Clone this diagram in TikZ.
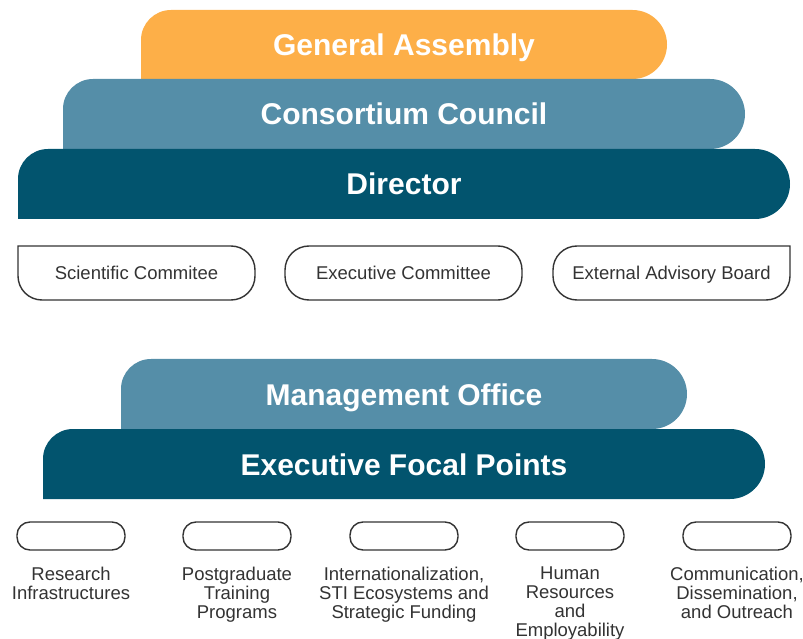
\documentclass[tikz,border=0pt]{standalone}
\usepackage{fontspec}
\setmainfont{Liberation Sans}
\usetikzlibrary{positioning}

\definecolor{gaorange}{HTML}{FDAF48}
\definecolor{midblue}{HTML}{558EA8}
\definecolor{darkteal}{HTML}{02546E}
\definecolor{inkgray}{HTML}{333333}

\begin{document}
\begin{tikzpicture}[x=1pt,y=1pt,
    title/.style={text=white,font=\fontsize{30}{36}\selectfont\bfseries,
        inner sep=0pt,anchor=base},
    box/.style={draw=inkgray,line width=1.4pt},
    boxtext/.style={text=inkgray,font=\fontsize{18.5}{22}\selectfont,
        inner sep=0pt,anchor=base},
    pill/.style={draw=inkgray,line width=1.4pt,rounded corners=13pt,
        minimum width=108pt,minimum height=28pt,inner sep=0pt},
    lbl/.style={text=inkgray,font=\fontsize{18.5}{19}\selectfont,
        align=center,inner sep=0pt}]

    \useasboundingbox (0,0) rectangle (803,638);

    % governing bodies
    \fill[gaorange] (141,559) -- (141,598) arc[start angle=180,end
        angle=90,radius=30] -- (632.5,628) arc[start angle=90,end
        angle=-90,radius=34.5] -- cycle;
    \fill[midblue] (63,489) -- (63,529) arc[start angle=180,end
        angle=90,radius=30] -- (710,559) arc[start angle=90,end
        angle=-90,radius=35] -- cycle;
    \fill[darkteal] (18,419) -- (18,459) arc[start angle=180,end
        angle=90,radius=30] -- (755,489) arc[start angle=90,end
        angle=-90,radius=35] -- cycle;

    \node[title] (ga) at (404,582.5) {General Assembly};
    \node[title] (cc) at (404,513) {Consortium Council};
    \node[title] (dir) at (404,443) {Director};

    % committees
    \draw[box] (18,392) -- (231,392) arc[start angle=90,end
        angle=0,radius=24] -- (255,362) arc[start angle=0,end
        angle=-90,radius=24] -- (42,338) arc[start angle=270,end
        angle=180,radius=24] -- cycle;
    \draw[box,rounded corners=24pt] (285,338) rectangle (522,392);
    \draw[box] (790,392) -- (790,362) arc[start angle=0,end
        angle=-90,radius=24] -- (577,338) arc[start angle=270,end
        angle=180,radius=24] -- (553,368) arc[start angle=180,end
        angle=90,radius=24] -- cycle;

    \node[boxtext] (sci) at (136.5,358.4) {Scientific Commitee};
    \node[boxtext] (exe) at (403.5,358.4) {Executive Committee};
    \node[boxtext] (eab) at (671.5,358.4) {External Advisory Board};

    % management
    \fill[midblue] (121,209) -- (121,249) arc[start angle=180,end
        angle=90,radius=30] -- (652,279) arc[start angle=90,end
        angle=-90,radius=35] -- cycle;
    \fill[darkteal] (43,139) -- (43,179) arc[start angle=180,end
        angle=90,radius=30] -- (730,209) arc[start angle=90,end
        angle=-90,radius=35] -- cycle;

    \node[title] (mo) at (404,233) {Management Office};
    \node[title] (efp) at (404,163) {Executive Focal Points};

    % focal points
    \node[pill] (ri) at (71,102) {};
    \node[pill] (ptp) at (237,102) {};
    \node[pill] (isf) at (404,102) {};
    \node[pill] (hre) at (570,102) {};
    \node[pill] (cdo) at (737,102) {};

    \node[lbl,below=16pt of ri] (rilbl) {Research\\Infrastructures};
    \node[lbl,below=16pt of ptp] (ptplbl) {Postgraduate\\Training\\Programs};
    \node[lbl,below=16pt of isf] (isflbl) {Internationalization,\\STI
        Ecosystems and\\Strategic Funding};
    \node[lbl,below=16pt of hre] (hrelbl) {Human\\Resources\\and\\Employability};
    \node[lbl,below=16pt of cdo] (cdolbl) {Communication,\\Dissemination,\\and
        Outreach};

\end{tikzpicture}
\end{document}
